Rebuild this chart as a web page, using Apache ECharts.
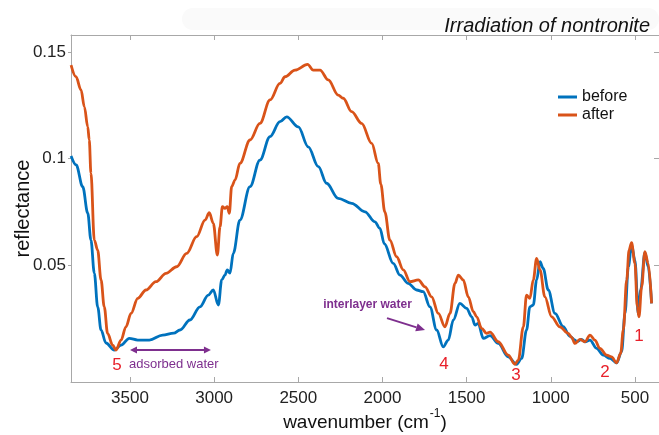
<!DOCTYPE html>
<html>
<head>
<meta charset="utf-8">
<script src="https://cdn.jsdelivr.net/npm/echarts@6/dist/echarts.min.js"></script>
<style>html,body{margin:0;padding:0;background:#fff}#c{width:659px;height:435px}</style>
</head>
<body>
<div id="c"></div>
<script>
// ---- data ----
const beforeWavenumber = [3850,3820,3781,3751,3732,3712,3692,3672,3643,3593,3553,3504,3454,3385,3306,3240,3203,3144,3084,3035,3005,2975,2955,2936,2922,2906,2886,2847,2787,2728,2668,2609,2569,2500,2441,2381,2332,2263,2183,2104,2045,2015,1989,1936,1896,1847,1797,1758,1718,1678,1639,1609,1579,1540,1500,1470,1450,1431,1401,1361,1312,1253,1203,1173,1144,1124,1104,1084,1064,1045,1015,975,926,886,856,846,817,797,767,728,688,648,609,579,559,539,520,500,480,466,441,421,401];
const beforeReflectance = [0.1012,0.0970,0.0868,0.0744,0.0617,0.0462,0.0304,0.0195,0.0134,0.0101,0.0124,0.0156,0.0148,0.0148,0.0171,0.0180,0.0195,0.0242,0.0304,0.0359,0.0383,0.0312,0.0430,0.0453,0.0477,0.0462,0.0556,0.0711,0.0868,0.0993,0.1103,0.1173,0.1196,0.1149,0.1055,0.0962,0.0884,0.0813,0.0790,0.0750,0.0703,0.0672,0.0600,0.0508,0.0453,0.0414,0.0383,0.0375,0.0304,0.0195,0.0116,0.0148,0.0242,0.0320,0.0297,0.0257,0.0218,0.0226,0.0156,0.0169,0.0132,0.0069,0.0034,0.0062,0.0195,0.0304,0.0312,0.0430,0.0516,0.0484,0.0383,0.0273,0.0211,0.0165,0.0148,0.0140,0.0151,0.0140,0.0148,0.0109,0.0077,0.0062,0.0041,0.0093,0.0273,0.0492,0.0594,0.0523,0.0270,0.0383,0.0558,0.0492,0.0320];
const afterWavenumber = [3850,3821,3791,3771,3751,3742,3732,3712,3692,3672,3653,3633,3603,3583,3553,3524,3494,3454,3405,3346,3286,3223,3163,3104,3054,3029,3005,2981,2965,2951,2936,2922,2910,2896,2876,2847,2787,2728,2668,2609,2579,2520,2445,2411,2371,2322,2263,2233,2183,2124,2064,2025,2010,1986,1956,1916,1876,1837,1787,1747,1708,1668,1629,1599,1569,1549,1520,1490,1460,1440,1411,1381,1361,1312,1253,1213,1193,1163,1144,1124,1104,1084,1064,1035,995,946,896,876,856,827,797,767,738,708,668,639,609,585,569,549,535,520,500,486,476,460,441,421,401];
const afterReflectance = [0.1439,0.1384,0.1322,0.1243,0.1149,0.1087,0.0931,0.0617,0.0570,0.0430,0.0304,0.0179,0.0124,0.0101,0.0148,0.0210,0.0273,0.0344,0.0383,0.0422,0.0461,0.0492,0.0555,0.0633,0.0711,0.0746,0.0696,0.0547,0.0680,0.0774,0.0766,0.0774,0.0743,0.0868,0.0899,0.0977,0.1087,0.1165,0.1275,0.1353,0.1384,0.1415,0.1442,0.1415,0.1415,0.1369,0.1298,0.1283,0.1220,0.1165,0.1071,0.0977,0.0880,0.0750,0.0617,0.0539,0.0477,0.0422,0.0430,0.0398,0.0351,0.0273,0.0210,0.0273,0.0414,0.0453,0.0430,0.0351,0.0281,0.0257,0.0203,0.0179,0.0185,0.0140,0.0077,0.0034,0.0054,0.0210,0.0359,0.0344,0.0430,0.0531,0.0477,0.0351,0.0257,0.0210,0.0179,0.0160,0.0132,0.0151,0.0140,0.0171,0.0148,0.0109,0.0077,0.0069,0.0041,0.0085,0.0195,0.0430,0.0570,0.0605,0.0508,0.0304,0.0257,0.0398,0.0563,0.0508,0.0320];
const seriesNames = ['before', 'after'];
const xTicks = [3500, 3000, 2500, 2000, 1500, 1000, 500];
const yTicks = [0.05, 0.1, 0.15];
// band annotations: [label, wavenumber, reflectance]
const bandLabels = [['5', 3577, 0.0031], ['4', 1635, 0.0035], ['3', 1207, -0.0016], ['2', 678, -0.0002], ['1', 476, 0.0167]];
const adsorbedText = ['adsorbed water', 3506, 0.0035];
const adsorbedArrow = [[3500, 0.0101], [3019, 0.0101]];
const interlayerText = ['interlayer water', 2089, 0.0312];
const interlayerArrow = [[1973, 0.0251], [1747, 0.0195]];

const zip = (a, b) => a.map((v, i) => [v, b[i]]);
const FONT = '"Liberation Sans", Arial, Helvetica, sans-serif';
const AXC = '#a8a8a8';
const TXT = '#222';
const BLUE = '#0072BD', ORANGE = '#D95319', PURPLE = '#7E2F8E', RED = '#E8202A';

const chart = echarts.init(document.getElementById('c'), null, {renderer: 'canvas'});
const XMIN = 357, XMAX = 3850.5, YMIN = -0.0049, YMAX = 0.158;
const plain = v => String(v);

chart.setOption({
  animation: false,
  backgroundColor: '#fff',
  textStyle: {fontFamily: FONT},
  title: {
    text: 'Irradiation of nontronite', right: 4, top: 11,
    textStyle: {fontFamily: FONT, fontSize: 20, fontStyle: 'italic', fontWeight: 'normal', color: '#111'}
  },
  legend: {
    data: seriesNames, orient: 'vertical', left: 553, top: 84,
    icon: 'rect', itemWidth: 19, itemHeight: 3, itemGap: 2,
    textStyle: {fontFamily: FONT, fontSize: 16, color: '#111'}
  },
  grid: {left: 71, right: 0, top: 35, bottom: 53, containLabel: false, outerBoundsMode: 'none'},
  xAxis: [{
    type: 'value', inverse: true, min: XMIN, max: XMAX, position: 'bottom',
    axisLine: {show: true, onZero: false, lineStyle: {color: AXC, width: 1}},
    axisTick: {show: true, inside: true, length: 5, customValues: xTicks, lineStyle: {color: AXC}},
    axisLabel: {customValues: xTicks, formatter: plain, fontFamily: FONT, fontSize: 17, color: TXT, margin: 8},
    splitLine: {show: false},
    name: '{a|wavenumber (cm}{s|-1}{a|)}', nameLocation: 'middle', nameGap: 26, nameMoveOverlap: false,
    nameTextStyle: {
      rich: {
        a: {fontFamily: FONT, fontSize: 19, color: '#111', lineHeight: 24, verticalAlign: 'bottom'},
        s: {fontFamily: FONT, fontSize: 12, color: '#111', lineHeight: 24, verticalAlign: 'top', padding: [0, 0, 0, 1]}
      }
    }
  }, {
    type: 'value', inverse: true, min: XMIN, max: XMAX, position: 'top',
    axisLine: {show: true, onZero: false, lineStyle: {color: AXC, width: 1}},
    axisTick: {show: true, inside: true, length: 5, customValues: xTicks, lineStyle: {color: AXC}},
    axisLabel: {show: false}, splitLine: {show: false}
  }],
  yAxis: [{
    type: 'value', min: YMIN, max: YMAX, position: 'left',
    axisLine: {show: true, onZero: false, lineStyle: {color: AXC, width: 1}},
    axisTick: {show: true, inside: false, length: 3, customValues: yTicks, lineStyle: {color: AXC}},
    axisLabel: {customValues: yTicks, formatter: plain, fontFamily: FONT, fontSize: 17, color: TXT, margin: 5},
    splitLine: {show: false},
    name: 'reflectance', nameLocation: 'middle', nameGap: 38, nameRotate: 90, nameMoveOverlap: false,
    nameTextStyle: {fontFamily: FONT, fontSize: 20, color: '#111'}
  }, {
    type: 'value', min: YMIN, max: YMAX, position: 'right',
    axisLine: {show: false, onZero: false},
    axisTick: {show: true, inside: true, length: 5, customValues: yTicks, lineStyle: {color: AXC}},
    axisLabel: {show: false}, splitLine: {show: false}
  }],
  series: [{
    name: seriesNames[0], type: 'line', data: zip(beforeWavenumber, beforeReflectance),
    showSymbol: false, smooth: 0.35, smoothMonotone: 'x', clip: true,
    lineStyle: {color: BLUE, width: 2.8}, itemStyle: {color: BLUE}, z: 3
  }, {
    name: seriesNames[1], type: 'line', data: zip(afterWavenumber, afterReflectance),
    showSymbol: false, smooth: 0.35, smoothMonotone: 'x', clip: true,
    lineStyle: {color: ORANGE, width: 2.8}, itemStyle: {color: ORANGE}, z: 4
  }]
});

// annotations placed through the axes' own scales
const P = (w, v) => chart.convertToPixel({xAxisIndex: 0, yAxisIndex: 0}, [w, v]);
function head(tip, from, len, hw) {
  const dx = tip[0] - from[0], dy = tip[1] - from[1];
  const L = Math.hypot(dx, dy), ux = dx / L, uy = dy / L;
  const bx = tip[0] - ux * len, by = tip[1] - uy * len;
  return [[tip[0], tip[1]], [bx - uy * hw, by + ux * hw], [bx + uy * hw, by - ux * hw]];
}
const g = [];
g.push({type: 'rect', silent: true, z: -10, shape: {x: 182, y: 8, width: 477, height: 22, r: 11},
        style: {fill: '#fafafa'}});
bandLabels.forEach(([t, w, v]) => {
  const p = P(w, v);
  g.push({type: 'text', x: p[0], y: p[1], style: {text: t, fill: RED, font: '17px ' + FONT, align: 'center', verticalAlign: 'middle'}});
});
{
  const p = P(adsorbedText[1], adsorbedText[2]);
  g.push({type: 'text', x: p[0], y: p[1], style: {text: adsorbedText[0], fill: PURPLE, font: '13px ' + FONT, align: 'left', verticalAlign: 'middle'}});
  const a = P(...adsorbedArrow[0]), b = P(...adsorbedArrow[1]);
  g.push({type: 'line', shape: {x1: a[0] + 4, y1: a[1], x2: b[0] - 4, y2: b[1]}, style: {stroke: PURPLE, lineWidth: 2}});
  g.push({type: 'polygon', shape: {points: head(a, b, 7, 3.5)}, style: {fill: PURPLE}});
  g.push({type: 'polygon', shape: {points: head(b, a, 7, 3.5)}, style: {fill: PURPLE}});
}
{
  const p = P(interlayerText[1], interlayerText[2]);
  g.push({type: 'text', x: p[0], y: p[1], style: {text: interlayerText[0], fill: PURPLE, font: 'bold 12px ' + FONT, align: 'center', verticalAlign: 'middle'}});
  const a = P(...interlayerArrow[0]), b = P(...interlayerArrow[1]);
  const hb = head(b, a, 9, 4);
  g.push({type: 'line', shape: {x1: a[0], y1: a[1], x2: (hb[1][0] + hb[2][0]) / 2, y2: (hb[1][1] + hb[2][1]) / 2}, style: {stroke: PURPLE, lineWidth: 2}});
  g.push({type: 'polygon', shape: {points: hb}, style: {fill: PURPLE}});
}
chart.setOption({graphic: g});
</script>
</body>
</html>
